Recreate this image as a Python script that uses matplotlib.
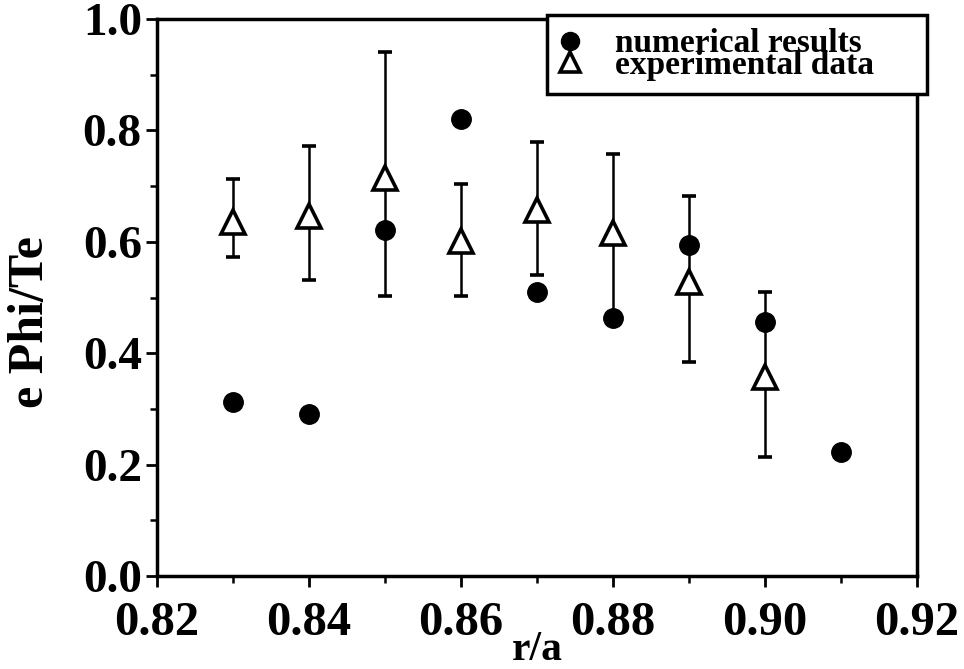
import numpy as np
import matplotlib.pyplot as plt
from matplotlib.ticker import MultipleLocator

# ---------------------------------------------------------
# Data
# ---------------------------------------------------------

r_num = [0.83, 0.84, 0.85, 0.86, 0.87, 0.88, 0.89, 0.90, 0.91]
phi_num = [0.313, 0.291, 0.621, 0.821, 0.510, 0.463, 0.594, 0.456, 0.222]

r_exp = [0.83, 0.84, 0.85, 0.86, 0.87, 0.88, 0.89, 0.90]
phi_exp = [0.636, 0.646, 0.715, 0.601, 0.657, 0.616, 0.527, 0.358]
phi_exp_lo = [0.572, 0.532, 0.503, 0.502, 0.540, 0.470, 0.385, 0.213]
phi_exp_hi = [0.712, 0.772, 0.940, 0.703, 0.779, 0.758, 0.683, 0.510]

xticks = [0.82, 0.84, 0.86, 0.88, 0.90, 0.92]
yticks = [0.0, 0.2, 0.4, 0.6, 0.8, 1.0]

# ---------------------------------------------------------
# Plot
# ---------------------------------------------------------

plt.rcParams['font.family'] = ['Liberation Serif', 'DejaVu Serif']
plt.rcParams['font.weight'] = 'bold'

fig = plt.figure(figsize=(9.64, 6.69), dpi=100)
ax = fig.add_axes([0.1629, 0.139, 0.7884, 0.8326])

err_lo = np.array(phi_exp) - np.array(phi_exp_lo)
err_hi = np.array(phi_exp_hi) - np.array(phi_exp)

eb = ax.errorbar(r_exp, phi_exp, yerr=[err_lo, err_hi], fmt='^',
                 color='black', ecolor='black', elinewidth=1.8,
                 capsize=5, capthick=2.5, markersize=17,
                 markerfacecolor='white', markeredgecolor='black',
                 markeredgewidth=2.6, zorder=3)
eb[0].set_zorder(4)

num, = ax.plot(r_num, phi_num, 'o', color='black', markersize=14, zorder=5)

ax.set_xlim(0.82, 0.92)
ax.set_ylim(0.0, 1.0)
ax.set_xticks(xticks)
ax.set_xticklabels([f"{t:.2f}" for t in xticks])
ax.set_yticks(yticks)
ax.set_yticklabels([f"{t:.1f}" for t in yticks])
ax.xaxis.set_minor_locator(MultipleLocator(0.01))
ax.yaxis.set_minor_locator(MultipleLocator(0.1))

ax.tick_params(which='major', direction='out', length=8, width=2,
               labelsize=34, pad=3)
ax.tick_params(axis='x', which='major', labelsize=35, pad=10)
ax.tick_params(which='minor', direction='out', length=5, width=1.8)

for s in ax.spines.values():
    s.set_linewidth(2.5)

ax.set_xlabel("r/a", fontsize=30, fontweight='bold', labelpad=-10)
ax.set_ylabel("e Phi/Te", fontsize=36, fontweight='bold')
ax.yaxis.set_label_coords(-0.135, 0.456)

leg = ax.legend([num, eb[0]], ["numerical results", "experimental data"],
                loc='upper left', bbox_to_anchor=(0.513, 0.5, 0.5, 0.507),
                mode='expand', frameon=True, fancybox=False, framealpha=1,
                edgecolor='black', handlelength=0.6, handletextpad=1.05,
                labelspacing=-0.28, borderpad=0.4, borderaxespad=0.0,
                prop={'family': 'Liberation Serif', 'weight': 'bold', 'size': 24})
leg.get_frame().set_linewidth(2.5)
leg.legend_handles[1].set_markersize(14)
leg.legend_handles[0].set_markersize(13)

fig.savefig("out.png", dpi=100)
